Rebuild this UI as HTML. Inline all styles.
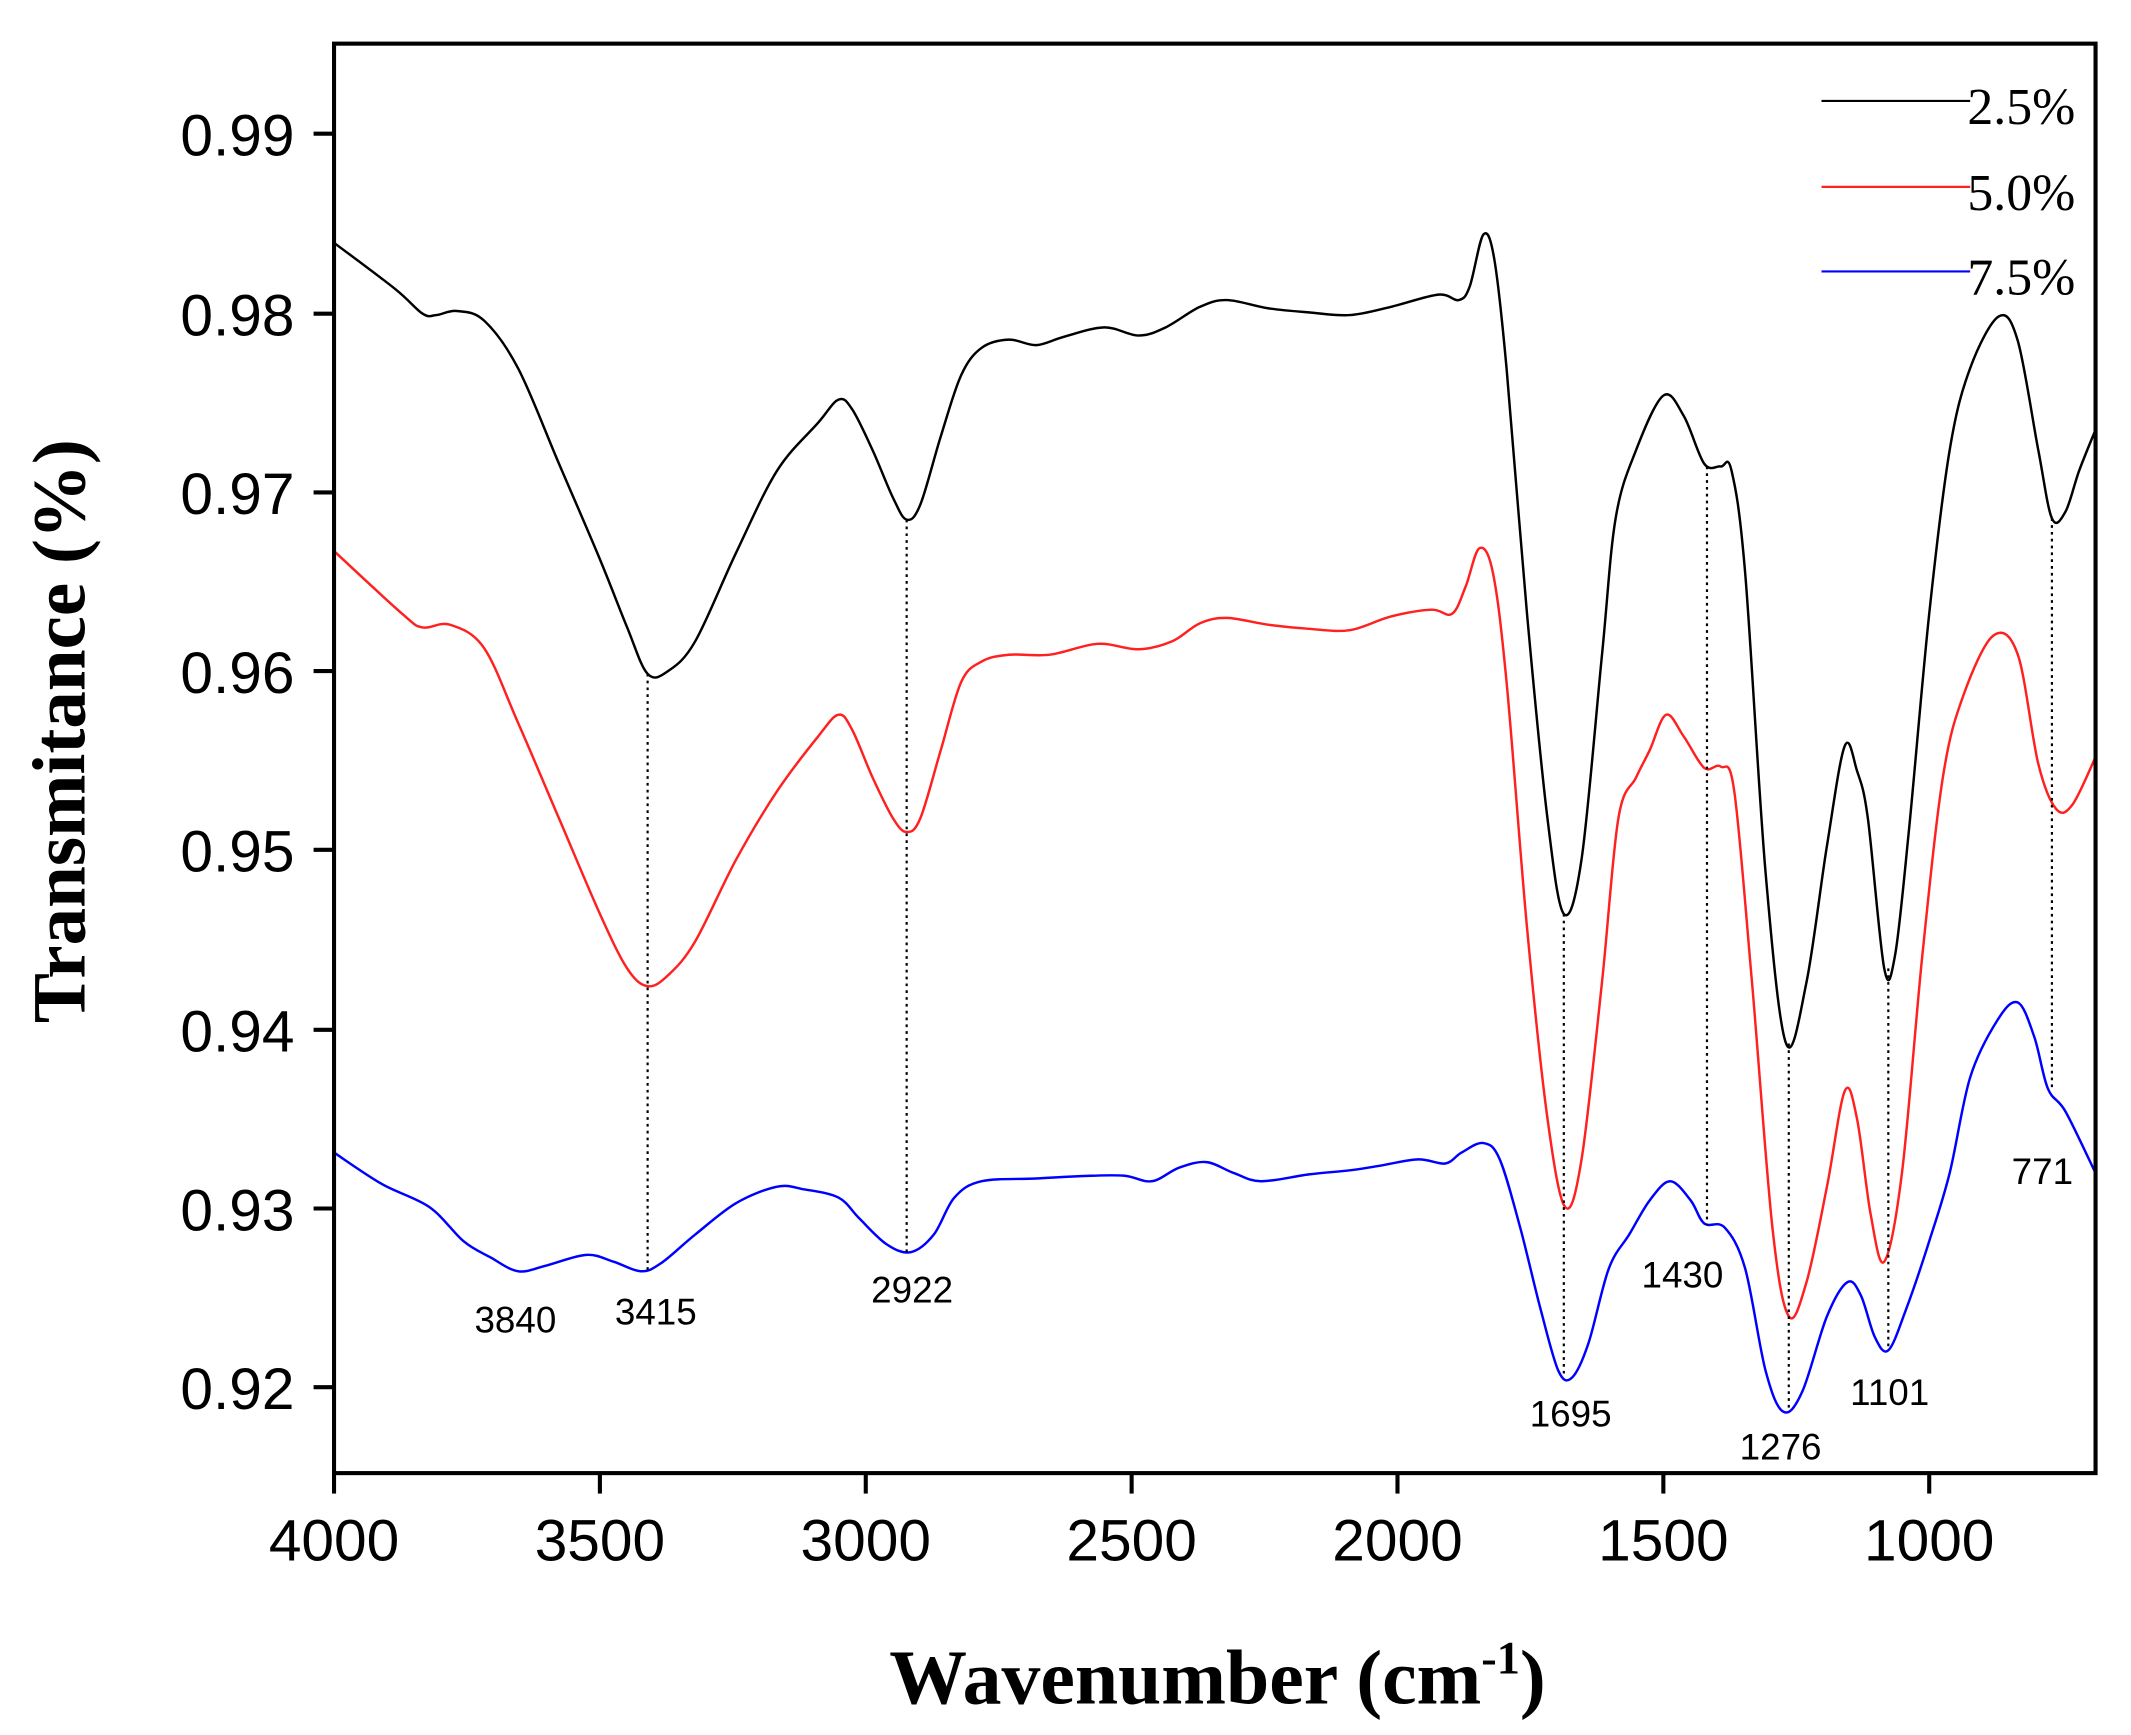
<!DOCTYPE html>
<html><head><meta charset="utf-8"><style>html,body{margin:0;padding:0;background:#fff}svg{display:block}</style></head>
<body>
<svg width="2131" height="1735" viewBox="0 0 1563 1272" preserveAspectRatio="none" xmlns="http://www.w3.org/2000/svg">
<rect x="0" y="0" width="1563" height="1272" fill="#fff"/>
<g fill="none" stroke-linejoin="round" stroke-linecap="round" stroke-width="1.8" class="curves">
<polyline stroke="#000" points="245,178 290,212 310,230 320,231 335,228 355,235 380,270 410,340 440,410 460,460 475,494 490,492 510,470 540,405 570,345 600,310 615,293 625,300 640,330 655,365 665,381 675,370 690,320 705,275 720,255 740,249 760,253 780,247 810,240 835,246 855,240 880,225 900,220 930,226 960,229 990,231 1020,225 1055,216 1070,220 1078,210 1088,172 1096,190 1105,270 1120,450 1135,600 1147,670 1160,630 1175,480 1185,380 1200,330 1220,290 1235,305 1250,340 1262,342 1270,345 1280,420 1295,640 1310,765 1325,720 1340,620 1353,547 1362,565 1370,600 1382,710 1390,700 1400,610 1415,450 1430,330 1445,270 1466,232 1480,250 1495,330 1505,380 1515,375 1525,345 1537,315"/>
<polyline stroke="#ff2020" points="245,404 295,450 310,460 330,458 355,475 380,530 410,600 440,670 460,710 475,723 490,715 510,690 540,630 570,580 600,540 615,524 625,535 640,570 655,600 665,610 675,600 690,550 705,500 720,485 740,480 770,480 805,472 835,476 860,470 880,457 900,453 930,458 960,461 990,462 1020,452 1050,447 1065,450 1075,430 1085,402 1095,420 1105,500 1120,680 1135,820 1148,885 1160,850 1175,720 1187,600 1200,570 1210,550 1222,524 1235,540 1250,563 1262,562 1272,580 1285,720 1300,900 1312,965 1325,940 1340,870 1353,800 1362,820 1372,890 1382,925 1395,860 1410,700 1425,570 1440,510 1462,466 1480,480 1495,560 1508,593 1520,590 1537,555"/>
<polyline stroke="#0000ff" points="245,845 280,868 315,885 340,910 360,922 380,932 400,928 430,920 450,925 470,932 485,926 510,905 540,882 570,870 590,872 615,878 630,893 650,912 668,918 685,905 700,878 720,866 760,864 800,862 825,862 845,866 865,856 885,852 905,860 925,866 960,861 990,858 1010,855 1040,850 1060,853 1072,845 1088,838 1100,850 1115,900 1130,960 1143,1005 1153,1010 1165,985 1180,930 1195,905 1210,880 1225,866 1240,880 1250,897 1265,900 1280,930 1295,1005 1308,1035 1322,1020 1340,965 1355,940 1365,950 1375,980 1385,990 1398,960 1415,910 1430,860 1445,790 1465,748 1480,735 1492,760 1502,798 1515,815 1537,860"/>
</g>
<g stroke="#000" stroke-width="1.6" stroke-dasharray="2,3">
<line x1="475" y1="494" x2="475" y2="932"/>
<line x1="665" y1="381" x2="665" y2="918"/>
<line x1="1147" y1="670" x2="1147" y2="1010"/>
<line x1="1252" y1="342" x2="1252" y2="898"/>
<line x1="1312" y1="765" x2="1312" y2="1035"/>
<line x1="1385" y1="710" x2="1385" y2="990"/>
<line x1="1505" y1="380" x2="1505" y2="798"/>
</g>
<g font-family="Liberation Sans, sans-serif" font-size="27" text-anchor="middle" fill="#000">
<text x="378" y="977">3840</text><text x="481" y="971">3415</text><text x="669" y="955">2922</text>
<text x="1234" y="944">1430</text><text x="1152" y="1046">1695</text><text x="1306" y="1070">1276</text>
<text x="1386" y="1030">1101</text><text x="1498" y="868">771</text>
</g>
<rect x="245" y="32" width="1292" height="1048" fill="none" stroke="#000" stroke-width="3"/>
<g stroke="#000" stroke-width="3">
<line x1="230" y1="98" x2="245" y2="98"/><line x1="230" y1="230" x2="245" y2="230"/><line x1="230" y1="361" x2="245" y2="361"/><line x1="230" y1="492" x2="245" y2="492"/><line x1="230" y1="623" x2="245" y2="623"/><line x1="230" y1="755" x2="245" y2="755"/><line x1="230" y1="886" x2="245" y2="886"/><line x1="230" y1="1017" x2="245" y2="1017"/>
<line x1="245" y1="1080" x2="245" y2="1095"/><line x1="440" y1="1080" x2="440" y2="1095"/><line x1="635" y1="1080" x2="635" y2="1095"/><line x1="830" y1="1080" x2="830" y2="1095"/><line x1="1025" y1="1080" x2="1025" y2="1095"/><line x1="1220" y1="1080" x2="1220" y2="1095"/><line x1="1415" y1="1080" x2="1415" y2="1095"/>
</g>
<g font-family="Liberation Sans, sans-serif" font-size="43" fill="#000" text-anchor="end">
<text x="216" y="114">0.99</text><text x="216" y="246">0.98</text><text x="216" y="377">0.97</text><text x="216" y="508">0.96</text><text x="216" y="639">0.95</text><text x="216" y="771">0.94</text><text x="216" y="902">0.93</text><text x="216" y="1033">0.92</text>
</g>
<g font-family="Liberation Sans, sans-serif" font-size="43" fill="#000" text-anchor="middle">
<text x="245" y="1144">4000</text><text x="440" y="1144">3500</text><text x="635" y="1144">3000</text><text x="830" y="1144">2500</text><text x="1025" y="1144">2000</text><text x="1220" y="1144">1500</text><text x="1415" y="1144">1000</text>
</g>
<g stroke-width="1.6">
<line x1="1336" y1="74" x2="1445" y2="74" stroke="#000"/>
<line x1="1336" y1="137" x2="1445" y2="137" stroke="#ff2020"/>
<line x1="1336" y1="199" x2="1445" y2="199" stroke="#0000ff"/>
</g>
<g font-family="Liberation Serif, serif" font-size="38" fill="#000">
<text x="1443" y="91">2.5%</text><text x="1443" y="154">5.0%</text><text x="1443" y="216">7.5%</text>
</g>
<text x="893" y="1249" font-family="Liberation Serif, serif" font-weight="bold" font-size="57" text-anchor="middle">Wavenumber (cm<tspan font-size="34" dy="-22">-1</tspan><tspan dy="22">)</tspan></text>
<text transform="translate(62,536) rotate(-90)" font-family="Liberation Serif, serif" font-weight="bold" font-size="55" text-anchor="middle">Transmitance (%)</text>
</svg>
<script>
document.querySelectorAll('.curves polyline').forEach(function(pl){
  var pts=pl.getAttribute('points').trim().split(/\s+/).map(function(s){return s.split(',').map(Number);});
  var d='M'+pts[0][0]+','+pts[0][1];
  for(var i=0;i<pts.length-1;i++){
    var p0=pts[i-1]||pts[i],p1=pts[i],p2=pts[i+1],p3=pts[i+2]||p2;
    var c1x=p1[0]+(p2[0]-p0[0])/6,c1y=p1[1]+(p2[1]-p0[1])/6;
    var c2x=p2[0]-(p3[0]-p1[0])/6,c2y=p2[1]-(p3[1]-p1[1])/6;
    d+=' C'+c1x.toFixed(1)+','+c1y.toFixed(1)+' '+c2x.toFixed(1)+','+c2y.toFixed(1)+' '+p2[0]+','+p2[1];
  }
  var p=document.createElementNS('http://www.w3.org/2000/svg','path');
  p.setAttribute('d',d);p.setAttribute('stroke',pl.getAttribute('stroke'));
  pl.parentNode.replaceChild(p,pl);
});
</script>
</body></html>
